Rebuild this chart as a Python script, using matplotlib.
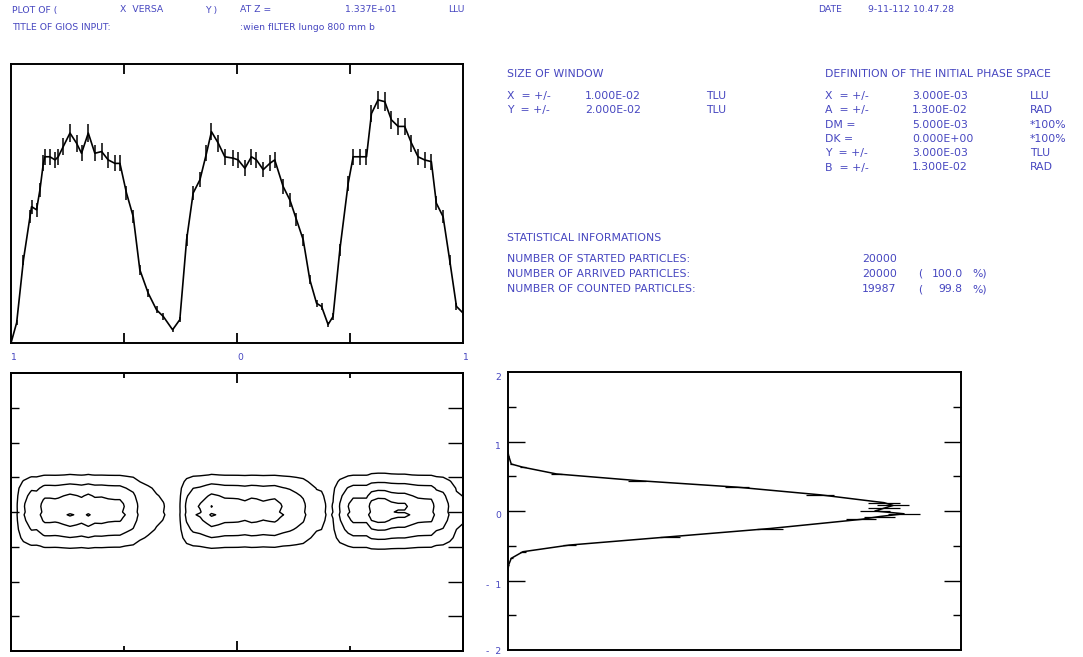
import numpy as np
import matplotlib
matplotlib.use("Agg")
import matplotlib.pyplot as plt

# x profile (top panel), counts per bin
x_pos = [-1.0, -0.975, -0.945, -0.916, -0.909, -0.887, -0.872, -0.857, -0.850, -0.828,
         -0.805, -0.791, -0.769, -0.739, -0.710, -0.688, -0.658, -0.629, -0.599, -0.570,
         -0.540, -0.518, -0.489, -0.459, -0.430, -0.393, -0.356, -0.326, -0.285, -0.253,
         -0.223, -0.194, -0.164, -0.135, -0.113, -0.083, -0.054, -0.017, 0.005, 0.035,
         0.064, 0.086, 0.116, 0.145, 0.167, 0.204, 0.234, 0.263, 0.293, 0.322,
         0.352, 0.374, 0.403, 0.425, 0.455, 0.492, 0.514, 0.543, 0.573, 0.595,
         0.624, 0.654, 0.683, 0.713, 0.742, 0.772, 0.801, 0.830, 0.860, 0.882,
         0.912, 0.941, 0.971, 1.0]
x_counts = [0, 58, 238, 362, 391, 382, 439, 515, 534, 534,
            525, 534, 563, 602, 573, 544, 602, 544, 549, 525,
            515, 515, 430, 362, 210, 143, 95, 76, 38, 67,
            296, 430, 468, 544, 606, 573, 534, 530, 525, 501,
            534, 525, 497, 515, 525, 449, 410, 354, 296, 182,
            114, 105, 53, 76, 267, 458, 534, 534, 534, 658,
            697, 692, 640, 621, 621, 573, 534, 525, 520, 401,
            362, 238, 105, 86]

# y profile (bottom right panel)
y_pos = [-0.85, -0.776, -0.681, -0.586, -0.49, -0.371, -0.252, -0.12, -0.08, -0.04,
         0.0, 0.04, 0.08, 0.12, 0.233, 0.343, 0.438, 0.533, 0.63, 0.676, 0.795, 0.85]
y_counts = [0, 1, 5, 23, 95, 250, 405, 546, 574, 612,
            567, 581, 595, 581, 482, 354, 199, 75, 23, 5, 1, 0]

contour_levels = [0.1, 0.36, 0.64, 0.84]

header = [
    (12, 10, "PLOT OF ("), (120, 10, "X  VERSA"), (205, 10, "Y )"), (240, 10, "AT Z ="),
    (345, 10, "1.337E+01"), (448, 10, "LLU"), (818, 10, "DATE"), (868, 10, "9-11-112 10.47.28"),
    (12, 28, "TITLE OF GIOS INPUT:"), (240, 28, ":wien fILTER lungo 800 mm b"),
]
window_rows = [("X  = +/-", "1.000E-02", "TLU"), ("Y  = +/-", "2.000E-02", "TLU")]
phase_rows = [("X  = +/-", "3.000E-03", "LLU"), ("A  = +/-", "1.300E-02", "RAD"),
              ("DM =", "5.000E-03", "*100%"), ("DK =", "0.000E+00", "*100%"),
              ("Y  = +/-", "3.000E-03", "TLU"), ("B  = +/-", "1.300E-02", "RAD")]
stat_rows = [("NUMBER OF STARTED PARTICLES:", "20000", "", ""),
             ("NUMBER OF ARRIVED PARTICLES:", "20000", "100.0", "%)"),
             ("NUMBER OF COUNTED PARTICLES:", "19987", "99.8", "%)")]

W, H = 1083, 657
blue = "#4646c0"
fs_head = 6.7
fs_info = 7.8

fig = plt.figure(figsize=(W / 100, H / 100), dpi=100)


def px_axes(l, t, r, b):
    return fig.add_axes([l / W, 1 - b / H, (r - l) / W, (b - t) / H])


def put(x, y, s, fs=fs_info):
    fig.text(x / W, 1 - y / H, s, color=blue, fontsize=fs, va="center")


for x, y, s in header:
    put(x, y, s, fs_head)

put(507, 74, "SIZE OF WINDOW")
for i, (a, b, c) in enumerate(window_rows):
    y = 96 + i * 14.3
    put(507, y, a); put(585, y, b); put(706, y, c)

put(825, 74, "DEFINITION OF THE INITIAL PHASE SPACE")
for i, (a, b, c) in enumerate(phase_rows):
    y = 96 + i * 14.3
    put(825, y, a); put(912, y, b); put(1030, y, c)

put(507, 238, "STATISTICAL INFORMATIONS")
for i, (a, b, c, d) in enumerate(stat_rows):
    y = 259 + i * 15
    put(507, y, a); put(862, y, b)
    if c:
        put(918, y, "("); put(932 if len(c) > 4 else 938, y, c); put(972, y, d)

# top: x histogram with error bars
ax1 = px_axes(11, 64, 463, 343)
xc = np.array(x_counts)
ax1.errorbar(x_pos, xc, yerr=np.sqrt(xc), color="black", lw=1.2, elinewidth=1.1, capsize=0)
ax1.set_xlim(-1, 1)
ax1.set_ylim(0, 800)
ax1.set_yticks([])
ax1.set_xticks([-0.5, 0, 0.5])
ax1.set_xticklabels([])
ax1.tick_params(axis="x", direction="in", top=True, bottom=True, length=7, width=1.3)
for v, s in [(-1, "1"), (0, "0"), (1, "1")]:
    ax1.annotate(s, xy=(v, 0), xycoords=("data", "axes fraction"), xytext=(3, -14),
                 textcoords="offset pixels", ha="center", va="center", color=blue, fontsize=fs_head)

# bottom left: contours of x-y density
ax2 = px_axes(11, 373, 463, 651)
yc = np.array(y_counts)
Z = np.outer(yc, xc).astype(float)
Z /= Z.max()
ax2.contour(x_pos, y_pos, Z, levels=contour_levels, colors="black", linewidths=1.0)
ax2.set_xlim(-1, 1)
ax2.set_ylim(-2, 2)
ax2.set_xticks([0])
ax2.set_xticks([-0.5, 0.5], minor=True)
ax2.set_yticks([-1.5, -1, -0.5, 0, 0.5, 1, 1.5])
ax2.set_xticklabels([])
ax2.set_yticklabels([])
ax2.tick_params(axis="x", which="major", direction="in", top=True, bottom=True, length=7, width=1.3)
ax2.tick_params(axis="x", which="minor", direction="in", top=True, bottom=True, length=3.5, width=1.3)
ax2.tick_params(axis="y", direction="in", left=True, right=False, length=6, width=1)
ax2r = ax2.twinx()
ax2r.set_ylim(-2, 2)
ax2r.set_yticks([-1.5, -1, -0.5, 0, 0.5, 1, 1.5])
ax2r.set_yticklabels([])
ax2r.tick_params(axis="y", direction="in", length=11, width=1)

# bottom right: y histogram
ax3 = px_axes(508, 372, 961, 650)
ax3.errorbar(yc, y_pos, xerr=np.sqrt(yc), color="black", lw=1.1, elinewidth=0.9, capsize=0)
ax3.set_xlim(0, 700)
ax3.set_ylim(-2, 2)
ax3.set_xticks([])
ax3.set_yticks([-1, 0, 1])
ax3.set_yticks([-1.5, -0.5, 0.5, 1.5], minor=True)
ax3.set_yticklabels([])
ax3.tick_params(axis="y", which="major", direction="in", left=True, right=True, length=12, width=1)
ax3.tick_params(axis="y", which="minor", direction="in", left=True, right=True, length=6, width=1)
for v, s, dy in [(2, "2", -5), (1, "1", -5), (0, "0", -5), (-1, "-  1", -5), (-2, "-  2", -1)]:
    ax3.annotate(s, xy=(0, v), xycoords=("axes fraction", "data"), xytext=(-7, dy),
                 textcoords="offset pixels", ha="right", va="center", color=blue, fontsize=fs_head,
                 annotation_clip=False)

for ax in (ax1, ax2, ax2r, ax3):
    for sp in ax.spines.values():
        sp.set_linewidth(1.4)

fig.savefig("out.png", dpi=100)
